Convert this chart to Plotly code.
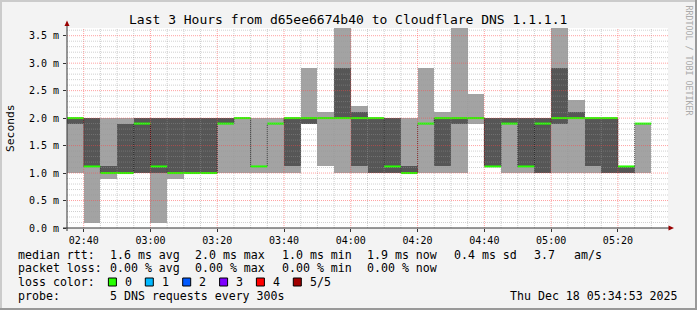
import plotly.graph_objects as go
import pandas as pd

# ---------------- data (ms) ----------------
slot_start = "2025-12-18 02:35"
slot_minutes = 5
rtt_min    = [1.0, 0.1, 0.9, 1.0, 1.0, 0.1, 0.9, 1.0, 1.0, 1.0, 1.0, 1.0, 1.0, 1.0, 1.9, 1.12, 1.0, 1.0,
              1.0, 1.0, 1.0, 1.0, 1.0, 1.0, 1.9, 1.12, 1.0, 1.0, 1.0, 1.0, 1.0, 1.0, 1.0, 1.0, 1.0]
rtt_p2     = [1.9, 1.12, 1.0, 1.0, 1.0, 1.0, 1.0, 1.0, 1.0, 1.9, 2.0, 1.12, 1.9, 1.12, 1.9, 2.0, 2.0, 1.12,
              1.0, 1.0, 1.0, 1.9, 1.12, 1.9, 2.0, 1.12, 1.9, 1.12, 1.0, 1.9, 2.0, 1.12, 1.0, 1.0, 1.9]
rtt_median = [2.0, 1.12, 1.0, 1.0, 1.9, 1.12, 1.0, 1.0, 1.0, 1.9, 2.0, 1.12, 1.9, 2.0, 2.0, 2.0, 2.0, 2.0,
              2.0, 1.12, 1.0, 1.9, 2.0, 2.0, 2.0, 1.12, 1.9, 1.12, 1.9, 2.0, 2.0, 2.0, 2.0, 1.12, 1.9]
rtt_p4     = [2.0, 2.0, 1.12, 1.9, 2.0, 2.0, 2.0, 2.0, 2.0, 2.0, 2.0, 1.12, 1.9, 2.0, 2.0, 2.0, 2.91, 2.12,
              2.0, 2.0, 1.12, 1.9, 2.0, 2.0, 2.0, 2.0, 2.0, 2.0, 2.0, 2.91, 2.12, 2.0, 2.0, 1.12, 1.9]
rtt_max    = [2.0, 2.0, 2.0, 2.0, 2.0, 2.0, 2.0, 2.0, 2.0, 2.0, 2.0, 2.0, 2.0, 2.0, 2.91, 2.12, 3.64, 2.22,
              2.0, 2.0, 2.0, 2.91, 2.12, 3.64, 2.44, 2.0, 2.0, 2.0, 2.0, 3.64, 2.33, 2.0, 2.0, 1.12, 1.9]

y_tick_vals = [0.0, 0.5, 1.0, 1.5, 2.0, 2.5, 3.0, 3.5]
y_tick_text = ["0.0 m", "0.5 m", "1.0 m", "1.5 m", "2.0 m", "2.5 m", "3.0 m", "3.5 m"]
y_top = 3.64
x_range = ["2025-12-18 02:35", "2025-12-18 05:35"]

loss_labels = ["0", "1", "2", "3", "4", "5/5"]
loss_colors = ["#26ff00", "#00b8ff", "#0059ff", "#7e00ff", "#ff0000", "#a10000"]

title_text = "Last 3 Hours from d65ee6674b40 to Cloudflare DNS 1.1.1.1"
stats_rtt = ["1.6 ms avg", "2.0 ms max", "1.0 ms min", "1.9 ms now", "0.4 ms sd", "3.7", "am/s"]
stats_loss = ["0.00 % avg", "0.00 % max", "0.00 % min", "0.00 % now"]
probe_text = "5 DNS requests every 300s"
stamp_text = "Thu Dec 18 05:34:53 2025"

# ---------------- layout constants (pixels) ----------------
W_IMG, H_IMG = 697, 310
L, R, T, B = 67, 668, 28, 228
PW, PH = R - L, B - T
FONT = "DejaVu Sans Mono"
LIGHT = "#a3a3a3"
DARK = "#565656"
GREEN = loss_colors[0]


def px(xp):
    return (xp - L) / PW


def py(yp):
    return (B - yp) / PH


starts = pd.date_range(slot_start, periods=len(rtt_min), freq=f"{slot_minutes}min")
step = pd.Timedelta(minutes=slot_minutes)
mids = starts + step / 2
ends = starts + step
width_ms = slot_minutes * 60 * 1000

fig = go.Figure()

fig.add_trace(go.Bar(
    x=list(mids), y=[mx - mn for mn, mx in zip(rtt_min, rtt_max)], base=rtt_min,
    width=width_ms, marker=dict(color=LIGHT, line=dict(width=0)), hoverinfo="skip"))
fig.add_trace(go.Bar(
    x=list(mids), y=[b - a for a, b in zip(rtt_p2, rtt_p4)], base=rtt_p2,
    width=width_ms, marker=dict(color=DARK, line=dict(width=0)), hoverinfo="skip"))

# step line of the median (shows the dark dotted transitions)
fig.add_trace(go.Scatter(
    x=list(starts) + [ends[-1]], y=rtt_median + [rtt_median[-1]],
    mode="lines", line=dict(color="#1a1a1a", width=1, dash="1px,1px", shape="hv"),
    hoverinfo="skip"))

# green median segments
gx, gy = [], []
for s, e, m in zip(starts, ends, rtt_median):
    gx += [s, e, None]
    gy += [m, m, None]
fig.add_trace(go.Scatter(x=gx, y=gy, mode="lines", line=dict(color=GREEN, width=2),
                         hoverinfo="skip", connectgaps=False))

shapes = []
# grid (drawn above traces like rrdtool)
minor_col = "rgba(150,150,150,0.45)"
major_col = "rgba(255,70,70,0.5)"
t0 = pd.Timestamp(x_range[0])
t1 = pd.Timestamp(x_range[1])
t = t0 + pd.Timedelta(minutes=5)
while t < t1:
    major = (t.minute % 20 == 0)
    shapes.append(dict(type="line", xref="x", yref="paper", x0=t, x1=t, y0=0, y1=1,
                       line=dict(color=major_col if major else minor_col, width=1, dash="1px,1px"),
                       layer="above"))
    t += pd.Timedelta(minutes=5)
k = 1
while k / 10 <= y_top:
    v = k / 10
    major = (k % 5 == 0)
    shapes.append(dict(type="line", xref="paper", yref="y", x0=0, x1=1, y0=v, y1=v,
                       line=dict(color=major_col if major else minor_col, width=1, dash="1px,1px"),
                       layer="above"))
    k += 1

# axes lines and arrows
AX = "#333333"
ARROW = "#990000"
shapes.append(dict(type="line", xref="paper", yref="paper", x0=px(L), x1=px(L), y0=py(231), y1=py(24),
                   line=dict(color=AX, width=1), layer="above"))
shapes.append(dict(type="line", xref="paper", yref="paper", x0=px(63), x1=px(670), y0=py(B), y1=py(B),
                   line=dict(color=AX, width=1), layer="above"))
shapes.append(dict(type="path", xref="paper", yref="paper",
                   path=f"M {px(64.5)} {py(26)} L {px(69.5)} {py(26)} L {px(67)} {py(20.5)} Z",
                   fillcolor=ARROW, line=dict(width=0), layer="above"))
shapes.append(dict(type="path", xref="paper", yref="paper",
                   path=f"M {px(668.5)} {py(225.5)} L {px(668.5)} {py(230.5)} L {px(674)} {py(228)} Z",
                   fillcolor=ARROW, line=dict(width=0), layer="above"))

# image frame (rrdtool shading)
shapes.append(dict(type="rect", xref="paper", yref="paper", x0=px(0), x1=px(W_IMG), y0=py(0), y1=py(2),
                   fillcolor="#cbcbcb", line=dict(width=0)))
shapes.append(dict(type="rect", xref="paper", yref="paper", x0=px(0), x1=px(2), y0=py(0), y1=py(H_IMG),
                   fillcolor="#cbcbcb", line=dict(width=0)))
shapes.append(dict(type="rect", xref="paper", yref="paper", x0=px(W_IMG - 2), x1=px(W_IMG), y0=py(0), y1=py(H_IMG),
                   fillcolor="#999999", line=dict(width=0)))
shapes.append(dict(type="rect", xref="paper", yref="paper", x0=px(0), x1=px(W_IMG), y0=py(H_IMG - 2), y1=py(H_IMG),
                   fillcolor="#999999", line=dict(width=0)))

# loss colour boxes
box_x = [108.4, 145.3, 182.7, 219.6, 256.4, 293.3]
lab_x = [123.1, 160.0, 197.3, 234.2, 271.1, 308.0]
for bx, col in zip(box_x, loss_colors):
    shapes.append(dict(type="rect", xref="paper", yref="paper", x0=px(bx), x1=px(bx + 8),
                       y0=py(278), y1=py(286), fillcolor=col, line=dict(color="#000000", width=1)))

ann = []


def text(s, xp, yp, size=11.6, xanchor="left", color="#000000", angle=0):
    ann.append(dict(text=s, x=px(xp), y=py(yp), xref="paper", yref="paper", showarrow=False,
                    xanchor=xanchor, yanchor="middle", textangle=angle,
                    font=dict(family=FONT, size=size, color=color)))


text(title_text, 348, 19, size=13, xanchor="center")
text("Seconds", 10, 128, size=11.3, xanchor="center", angle=-90)
text("RRDTOOL / TOBI OETIKER", 688.5, 60, size=8.3, xanchor="center", color="#aaaaaa", angle=90)

row1 = 254.5
text("median rtt:", 16, row1)
for s, xp in zip(stats_rtt, [107.6, 193.3, 279.6, 365.3, 451.6, 532.0, 572.4]):
    text(s, xp, row1)
row2 = 268.3
text("packet loss:", 16, row2)
for s, xp in zip(stats_loss, [107.6, 193.3, 279.6, 365.3]):
    text(s, xp, row2)
row3 = 282.3
text("loss color:", 16, row3)
for s, xp in zip(loss_labels, lab_x):
    text(s, xp, row3)
row4 = 296.2
text("probe:", 16, row4)
text(probe_text, 107.6, row4)
text(stamp_text, 680, row4, xanchor="right")

fig.update_layout(
    width=W_IMG, height=H_IMG,
    margin=dict(l=L, r=W_IMG - R, t=T, b=H_IMG - B, pad=0),
    paper_bgcolor="#f3f3f3", plot_bgcolor="#ffffff",
    barmode="overlay", bargap=0, showlegend=False,
    shapes=shapes, annotations=ann,
    xaxis=dict(type="date", range=x_range, showgrid=False, zeroline=False, showline=False,
               tickformat="%H:%M", tick0="2025-12-18 02:40", dtick=20 * 60 * 1000,
               ticks="outside", ticklen=3, tickcolor=AX,
               tickfont=dict(family=FONT, size=10, color="#000000"), fixedrange=True),
    yaxis=dict(range=[0, y_top], showgrid=False, zeroline=False, showline=False,
               tickvals=y_tick_vals, ticktext=y_tick_text,
               ticks="outside", ticklen=3, tickcolor=AX, ticklabelstandoff=2,
               tickfont=dict(family=FONT, size=10, color="#000000"), fixedrange=True),
)

fig.write_html("out.html", config={"displayModeBar": False})
